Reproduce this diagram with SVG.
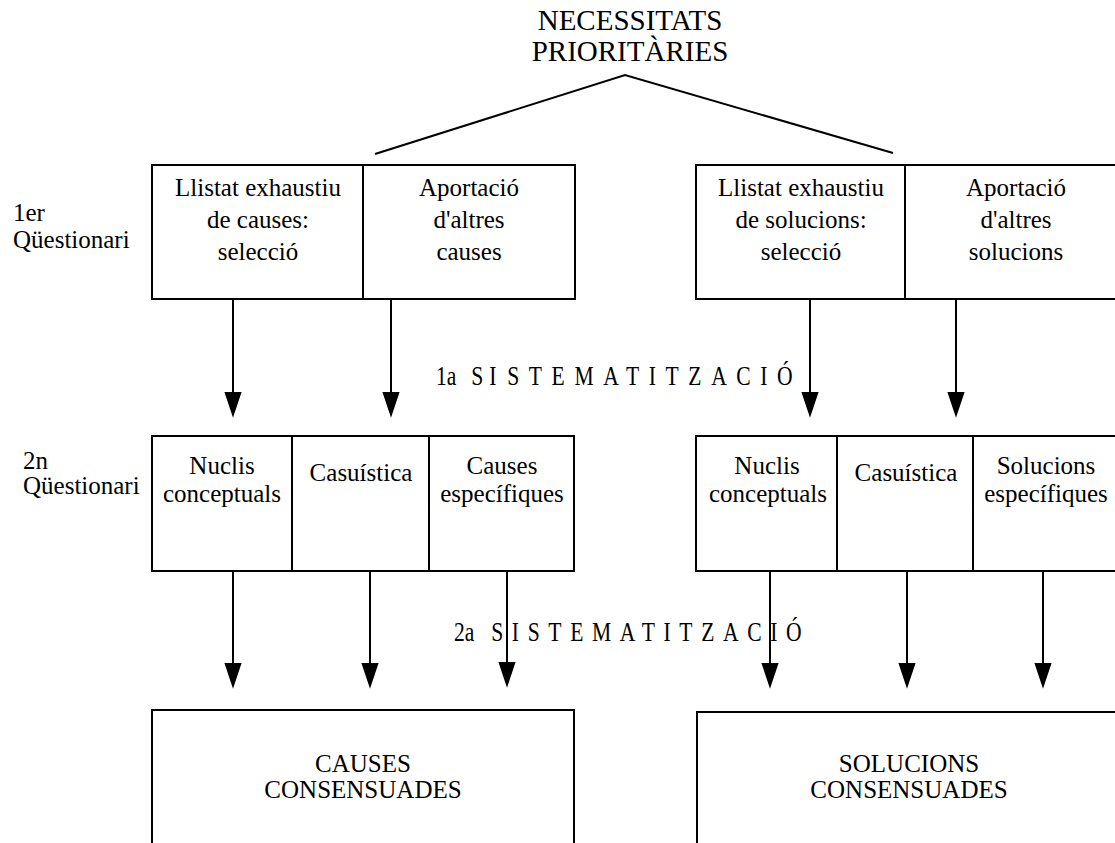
<svg xmlns="http://www.w3.org/2000/svg" width="1115" height="843" viewBox="0 0 1115 843">
  <defs>
    <style>
      .box { fill: none; stroke: #000; stroke-width: 2; }
      .div { stroke: #000; stroke-width: 2; }
      .t { font-family: "Liberation Serif", "Times New Roman", serif; font-size: 25px; fill: #000; text-anchor: middle; }
      .side { font-family: "Liberation Serif", "Times New Roman", serif; font-size: 25px; fill: #000; }
      .head { font-family: "Liberation Serif", "Times New Roman", serif; font-size: 29px; fill: #000; text-anchor: middle; }
      .stage { font-family: "Liberation Serif", "Times New Roman", serif; font-size: 27px; fill: #000; }
      .conn { fill: none; stroke: #000; stroke-width: 2; }
      .arrow { stroke: #000; stroke-width: 2; marker-end: url(#ah); }
    </style>
    <marker id="ah" markerUnits="userSpaceOnUse" markerWidth="26" markerHeight="18" viewBox="0 0 24 16" refX="14" refY="8" orient="auto">
      <path d="M0,0 L24,8 L0,16 z" fill="#000"/>
    </marker>
  </defs>
  <rect width="1115" height="843" fill="#fff"/>

  <!-- root title -->
  <g id="necessitats">
    <text class="head" x="630" y="30">NECESSITATS</text>
    <text class="head" x="630" y="61">PRIORITÀRIES</text>
  </g>

  <!-- row labels -->
  <g id="q1-label">
    <text class="side" x="13" y="221">1er</text>
    <text class="side" x="13" y="248">Qüestionari</text>
  </g>
  <g id="q2-label">
    <text class="side" x="23" y="469">2n</text>
    <text class="side" x="23" y="494">Qüestionari</text>
  </g>

  <!-- first questionnaire: causes -->
  <g id="q1-causes">
    <rect class="box" x="152" y="165" width="423" height="134"/>
    <line class="div" x1="363" y1="165" x2="363" y2="299"/>
    <text class="t" x="258" y="196">Llistat exhaustiu</text>
    <text class="t" x="258" y="228">de causes:</text>
    <text class="t" x="258" y="260">selecció</text>
    <text class="t" x="469" y="196">Aportació</text>
    <text class="t" x="469" y="228">d'altres</text>
    <text class="t" x="469" y="260">causes</text>
  </g>

  <!-- first questionnaire: solutions -->
  <g id="q1-solucions">
    <rect class="box" x="696" y="165" width="430" height="134"/>
    <line class="div" x1="905" y1="165" x2="905" y2="299"/>
    <text class="t" x="801" y="196">Llistat exhaustiu</text>
    <text class="t" x="801" y="228">de solucions:</text>
    <text class="t" x="801" y="260">selecció</text>
    <text class="t" x="1016" y="196">Aportació</text>
    <text class="t" x="1016" y="228">d'altres</text>
    <text class="t" x="1016" y="260">solucions</text>
  </g>

  <!-- second questionnaire: causes -->
  <g id="q2-causes">
    <rect class="box" x="152" y="436" width="422" height="135"/>
    <line class="div" x1="292" y1="436" x2="292" y2="571"/>
    <line class="div" x1="429" y1="436" x2="429" y2="571"/>
    <text class="t" x="222" y="474">Nuclis</text>
    <text class="t" x="222" y="502">conceptuals</text>
    <text class="t" x="361" y="481">Casuística</text>
    <text class="t" x="502" y="474">Causes</text>
    <text class="t" x="502" y="502">específiques</text>
  </g>

  <!-- second questionnaire: solutions -->
  <g id="q2-solucions">
    <rect class="box" x="696" y="436" width="424" height="135"/>
    <line class="div" x1="837" y1="436" x2="837" y2="571"/>
    <line class="div" x1="973" y1="436" x2="973" y2="571"/>
    <text class="t" x="767" y="474">Nuclis</text>
    <text class="t" x="768" y="502">conceptuals</text>
    <text class="t" x="906" y="481">Casuística</text>
    <text class="t" x="1046" y="474">Solucions</text>
    <text class="t" x="1046" y="502">específiques</text>
  </g>

  <!-- agreed results -->
  <g id="causes-consensuades">
    <rect class="box" x="152" y="710" width="422" height="200"/>
    <text class="t" x="363" y="772">CAUSES</text>
    <text class="t" x="363" y="798">CONSENSUADES</text>
  </g>
  <g id="solucions-consensuades">
    <rect class="box" x="697" y="712" width="440" height="200"/>
    <text class="t" x="909" y="772">SOLUCIONS</text>
    <text class="t" x="909" y="798">CONSENSUADES</text>
  </g>

  <!-- stage labels (condensed, letter-spaced) -->
  <g id="sistematitzacio-1">
    <text class="stage" transform="scale(0.8 1)" y="385"><tspan x="545">1a</tspan><tspan x="589" letter-spacing="7.5">SI</tspan><tspan x="634" letter-spacing="12">STEMATITZACIÓ</tspan></text>
  </g>
  <g id="sistematitzacio-2">
    <text class="stage" transform="scale(0.8 1)" y="641"><tspan x="567.5">2a</tspan><tspan x="614" letter-spacing="10.8">SISTEMATITZACIÓ</tspan></text>
  </g>

  <!-- connectors -->
  <g id="connectors">
    <polyline class="conn" points="375,154 625,75 893,153" stroke-width="2.5"/>
    <line class="arrow" x1="233" y1="299" x2="233" y2="407"/>
    <line class="arrow" x1="391" y1="299" x2="391" y2="407"/>
    <line class="arrow" x1="810" y1="299" x2="810" y2="407"/>
    <line class="arrow" x1="956" y1="299" x2="956" y2="407"/>
    <line class="arrow" x1="233" y1="571" x2="233" y2="678"/>
    <line class="arrow" x1="370" y1="571" x2="370" y2="678"/>
    <line class="arrow" x1="507" y1="571" x2="507" y2="677"/>
    <line class="arrow" x1="770" y1="571" x2="770" y2="678"/>
    <line class="arrow" x1="907" y1="571" x2="907" y2="678"/>
    <line class="arrow" x1="1043" y1="571" x2="1043" y2="678"/>
  </g>
</svg>
